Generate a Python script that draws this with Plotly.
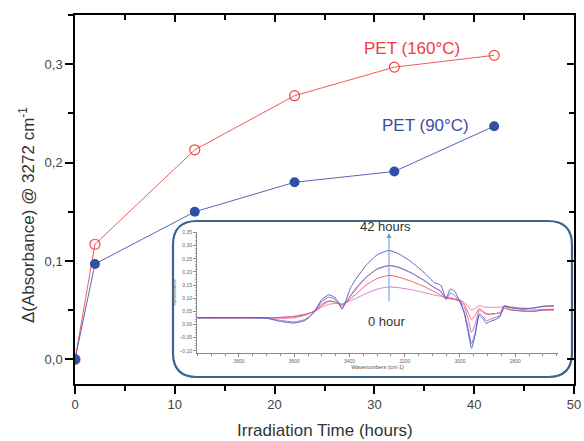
import plotly.graph_objects as go

# ---------------- main data ----------------
time_h = [0, 2, 12, 22, 32, 42]
pet160 = [0.0, 0.117, 0.213, 0.268, 0.297, 0.309]
pet90 = [0.0, 0.097, 0.150, 0.180, 0.191, 0.237]

x_ticks = [0, 10, 20, 30, 40, 50]
y_ticks = [0.0, 0.1, 0.2, 0.3]

# ---------------- inset spectra (difference spectra) ----------------
wavenumber = [3950, 3850, 3750, 3700, 3650, 3600, 3560, 3530, 3500, 3475,
              3455, 3440, 3427, 3415, 3396, 3372, 3340, 3300, 3257, 3220,
              3178, 3130, 3093, 3070, 3050, 3035, 3020, 3000, 2985, 2970,
              2958, 2945, 2930, 2915, 2905, 2890, 2870, 2855, 2840, 2820,
              2780, 2740, 2700, 2660]
spec_42h = [0.026, 0.026, 0.026, 0.024, 0.012, 0.006, 0.016, 0.045, 0.095, 0.113,
            0.105, 0.085, 0.058, 0.085, 0.140, 0.180, 0.225, 0.265, 0.282, 0.268,
            0.240, 0.198, 0.160, 0.150, 0.100, 0.135, 0.128, 0.088, 0.045, -0.030,
            -0.090, -0.040, 0.035, 0.020, 0.005, 0.012, 0.020, 0.030, 0.068, 0.066,
            0.060, 0.062, 0.070, 0.072]
spec_32h = [0.026, 0.026, 0.026, 0.025, 0.016, 0.010, 0.020, 0.045, 0.088, 0.104,
            0.098, 0.082, 0.063, 0.080, 0.112, 0.145, 0.180, 0.212, 0.225, 0.218,
            0.198, 0.168, 0.140, 0.128, 0.095, 0.120, 0.112, 0.085, 0.050, -0.015,
            -0.072, -0.030, 0.042, 0.028, 0.015, 0.020, 0.028, 0.035, 0.070, 0.058,
            0.052, 0.050, 0.056, 0.058]
spec_22h = [0.026, 0.026, 0.026, 0.026, 0.024, 0.026, 0.036, 0.050, 0.078, 0.090,
            0.088, 0.080, 0.072, 0.082, 0.108, 0.140, 0.178, 0.210, 0.224, 0.216,
            0.197, 0.168, 0.142, 0.125, 0.100, 0.102, 0.098, 0.088, 0.068, 0.020,
            -0.030, 0.000, 0.055, 0.045, 0.040, 0.040, 0.042, 0.045, 0.072, 0.068,
            0.063, 0.062, 0.068, 0.070]
spec_12h = [0.026, 0.026, 0.026, 0.026, 0.027, 0.030, 0.038, 0.050, 0.072, 0.088,
            0.086, 0.080, 0.075, 0.082, 0.098, 0.120, 0.150, 0.175, 0.187, 0.180,
            0.165, 0.145, 0.125, 0.112, 0.100, 0.098, 0.095, 0.090, 0.078, 0.045,
            0.018, 0.035, 0.062, 0.050, 0.042, 0.040, 0.042, 0.045, 0.062, 0.056,
            0.052, 0.050, 0.054, 0.055]
spec_2h = [0.026, 0.026, 0.026, 0.026, 0.028, 0.032, 0.040, 0.048, 0.066, 0.077,
           0.080, 0.080, 0.080, 0.083, 0.090, 0.102, 0.118, 0.135, 0.143, 0.140,
           0.133, 0.122, 0.112, 0.108, 0.104, 0.100, 0.097, 0.094, 0.085, 0.070,
           0.055, 0.062, 0.072, 0.068, 0.066, 0.066, 0.066, 0.066, 0.070, 0.064,
           0.058, 0.055, 0.058, 0.058]

spectra = [spec_2h, spec_12h, spec_22h, spec_32h, spec_42h]
spec_colors = ["#c77bc9", "#f0505c", "#e0609a", "#7078cc", "#4f55c0"]

inset_x_ticks = [3800, 3600, 3400, 3200, 3000, 2800]
inset_y_ticks = [-0.10, -0.05, 0.0, 0.05, 0.10, 0.15, 0.20, 0.25, 0.30, 0.35]

# ---------------- geometry helpers ----------------
W, H = 584, 441
L, R, T, B = 75, 10, 15, 57
PW, PH = W - L - R, H - T - B


def paper(px, py):
    return (px - L) / PW, (H - B - py) / PH


fig = go.Figure()

# main series
fig.add_trace(go.Scatter(
    x=time_h, y=pet160, mode="lines+markers", name="PET (160°C)",
    line=dict(color="#f25a5a", width=1),
    marker=dict(symbol="circle-open", size=10, color="#f04646", line=dict(width=1.2)),
    showlegend=False, xaxis="x", yaxis="y"))
fig.add_trace(go.Scatter(
    x=time_h, y=pet90, mode="lines+markers", name="PET (90°C)",
    line=dict(color="#5866b8", width=1),
    marker=dict(symbol="circle", size=10, color="#2f50a4"),
    showlegend=False, xaxis="x", yaxis="y"))
# empty trace so that the mirrored frame axes (top/right) get drawn
fig.add_trace(go.Scatter(x=[], y=[], xaxis="x2", yaxis="y2", showlegend=False,
                         hoverinfo="skip"))

# inset spectra
for s, c in zip(spectra, spec_colors):
    fig.add_trace(go.Scatter(
        x=wavenumber, y=s, mode="lines",
        line=dict(color=c, width=1.0, shape="spline", smoothing=0.5),
        opacity=0.9, showlegend=False, xaxis="x3", yaxis="y3", hoverinfo="skip"))

# rounded rectangle around inset
x0, x1, y0, y1, r = 173, 572, 221, 377, 24
pts = [("M", (x0 + r, y0)), ("L", (x1 - r, y0)), ("Q", (x1, y0), (x1, y0 + r)),
       ("L", (x1, y1 - r)), ("Q", (x1, y1), (x1 - r, y1)), ("L", (x0 + r, y1)),
       ("Q", (x0, y1), (x0, y1 - r)), ("L", (x0, y0 + r)), ("Q", (x0, y0), (x0 + r, y0))]
path = ""
for item in pts:
    cmd = item[0]
    coords = " ".join("%.5f,%.5f" % paper(*p) for p in item[1:])
    path += "%s %s " % (cmd, coords)
path += "Z"
fig.add_shape(type="path", path=path, xref="paper", yref="paper",
              line=dict(color="#3b6591", width=2.2), fillcolor="white", layer="below")

axis_font = dict(family="Liberation Sans, Arial, sans-serif", size=13, color="#444444")
main_ax = dict(showline=True, linecolor="black", linewidth=1.5, ticks="outside",
               ticklen=8, tickwidth=1.5, tickcolor="black", showgrid=False,
               zeroline=False, tickfont=axis_font, automargin=False,
               minor=dict(ticks="outside", ticklen=5, tickwidth=1.5, tickcolor="black"))

fig.update_layout(
    width=W, height=H, margin=dict(l=L, r=R, t=T, b=B, autoexpand=False),
    paper_bgcolor="white", plot_bgcolor="white",
    separators=",.",
    font=dict(family="Liberation Sans, Arial, sans-serif"),
    xaxis=dict(range=[0, 50], tickvals=x_ticks, minor_dtick=5, **main_ax),
    yaxis=dict(range=[-0.025, 0.35], tickvals=y_ticks, tickformat=".1f",
               minor_dtick=0.05, **main_ax),
    xaxis2=dict(range=[0, 50], overlaying="x", side="top", anchor="y2", automargin=False,
                showline=True, linecolor="black", linewidth=1.5, ticks="inside",
                tickvals=x_ticks, ticklen=7, tickwidth=1.5, tickcolor="black",
                showticklabels=False, showgrid=False, zeroline=False,
                minor=dict(ticks="inside", dtick=5, ticklen=5, tickwidth=1.5, tickcolor="black")),
    yaxis2=dict(range=[-0.025, 0.35], overlaying="y", side="right", anchor="x2", automargin=False,
                showline=True, linecolor="black", linewidth=1.5, ticks="inside",
                tickvals=y_ticks, ticklen=7, tickwidth=1.5, tickcolor="black",
                showticklabels=False, showgrid=False, zeroline=False,
                minor=dict(ticks="inside", dtick=0.05, ticklen=5, tickwidth=1.5, tickcolor="black")),
    xaxis3=dict(domain=[paper(197, 0)[0], paper(558, 0)[0]], anchor="y3", automargin=False,
                range=[3952, 2645], tickvals=inset_x_ticks, tickformat="d",
                showline=True, linecolor="#8a8a8a", linewidth=0.8,
                ticks="outside", ticklen=3, tickwidth=0.8, tickcolor="#8a8a8a",
                minor=dict(ticks="outside", dtick=50, ticklen=2, tickcolor="#8a8a8a"),
                tickfont=dict(size=5, color="#666666"), showgrid=False, zeroline=False,
                title=dict(text="Wavenumbers (cm-1)", font=dict(size=5.5, color="#555555"),
                           standoff=2)),
    yaxis3=dict(domain=[paper(0, 353)[1], paper(0, 232)[1]], anchor="x3", automargin=False,
                range=[-0.108, 0.352], tickvals=inset_y_ticks, tickformat=".2f",
                showline=True, linecolor="#8a8a8a", linewidth=0.8,
                ticks="outside", ticklen=3, tickwidth=0.8, tickcolor="#8a8a8a",
                minor=dict(ticks="outside", dtick=0.01, ticklen=1.5, tickcolor="#aaaaaa"),
                tickfont=dict(size=5, color="#666666"), showgrid=False, zeroline=False,
                title=dict(text="Absorbance", font=dict(size=5, color="#666666"),
                           standoff=2)),
)

title_font = dict(family="Liberation Sans, Arial, sans-serif", size=17, color="#333333")
ann = [
    dict(text="Irradiation Time (hours)", x=paper(325, 0)[0], y=paper(0, 430)[1],
         xref="paper", yref="paper", showarrow=False, font=title_font,
         xanchor="center", yanchor="middle"),
    dict(text="Δ(Absorbance) @ 3272 cm<sup>-1</sup>", x=paper(27, 0)[0], y=paper(0, 215)[1],
         xref="paper", yref="paper", showarrow=False, font=title_font, textangle=-90,
         xanchor="center", yanchor="middle"),
    dict(text="PET (160°C)", x=paper(412, 0)[0], y=paper(0, 49)[1],
         xref="paper", yref="paper", showarrow=False,
         font=dict(family="Liberation Sans, Arial, sans-serif", size=17, color="#f03c3c"),
         xanchor="center", yanchor="middle"),
    dict(text="PET (90°C)", x=paper(425, 0)[0], y=paper(0, 126)[1],
         xref="paper", yref="paper", showarrow=False,
         font=dict(family="Liberation Sans, Arial, sans-serif", size=17, color="#3a4ea0"),
         xanchor="center", yanchor="middle"),
    dict(text="42 hours", x=paper(385, 0)[0], y=paper(0, 226)[1],
         xref="paper", yref="paper", showarrow=False,
         font=dict(family="Liberation Sans, Arial, sans-serif", size=13, color="#333333"),
         xanchor="center", yanchor="middle"),
    dict(text="0 hour", x=paper(387, 0)[0], y=paper(0, 321)[1],
         xref="paper", yref="paper", showarrow=False,
         font=dict(family="Liberation Sans, Arial, sans-serif", size=13, color="#333333"),
         xanchor="center", yanchor="middle"),
    dict(x=3257, y=0.348, ax=3257, ay=0.083, xref="x3", yref="y3", axref="x3", ayref="y3",
         text="", showarrow=True, arrowhead=2, arrowsize=1, arrowwidth=1,
         arrowcolor="#6b9bd2"),
]
fig.update_layout(annotations=ann)

fig.write_html("out.html", config={"displayModeBar": False},
               post_script="document.body.style.margin='0px';")
